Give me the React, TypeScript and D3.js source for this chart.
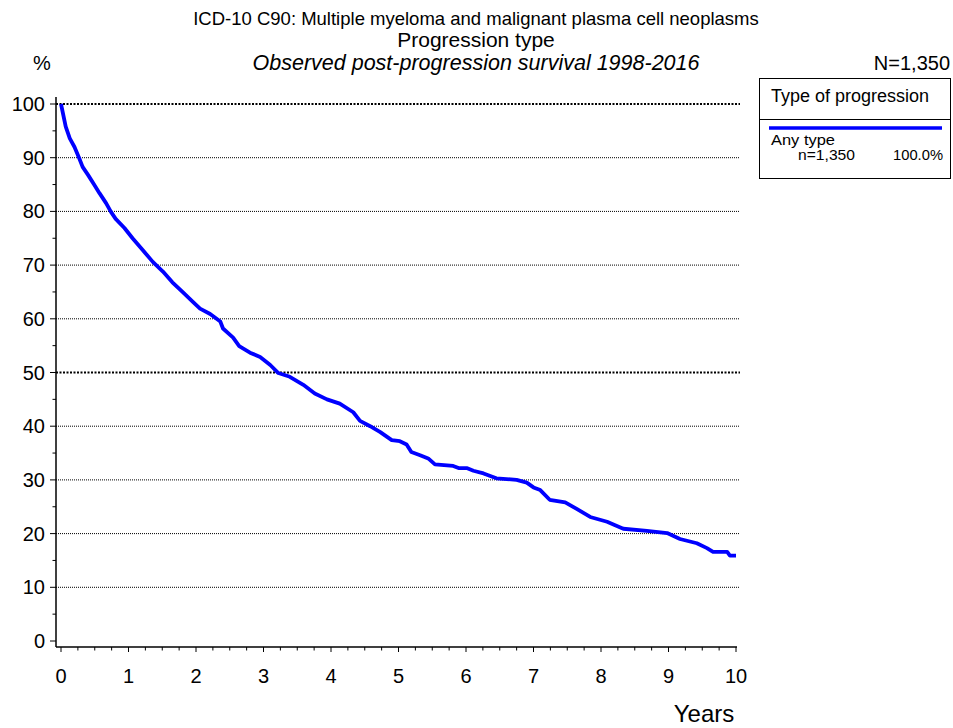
import { line, scaleLinear, range, curveLinear } from "d3";

const years = [
  0, 0.07, 0.13, 0.2, 0.27, 0.32, 0.4, 0.49, 0.57, 0.67, 0.74, 0.81, 0.94, 1.06,
  1.21, 1.36, 1.51, 1.65, 1.8, 1.95, 2.06, 2.21, 2.36, 2.4, 2.55, 2.64, 2.8,
  2.95, 3.1, 3.22, 3.39, 3.59, 3.76, 3.94, 4.13, 4.33, 4.43, 4.58, 4.73, 4.9,
  5.02, 5.12, 5.19, 5.32, 5.44, 5.54, 5.81, 5.89, 6.01, 6.11, 6.26, 6.45, 6.75,
  6.9, 7.0, 7.1, 7.24, 7.47, 7.64, 7.84, 8.09, 8.33, 8.68, 8.98, 9.17, 9.42,
  9.57, 9.66, 9.87, 9.91, 10.0,
];
const survival = [
  100, 95.8, 93.6, 92.0, 89.9, 88.3, 86.8, 85.0, 83.4, 81.5, 79.9, 78.6, 76.9,
  75.0, 72.8, 70.6, 68.8, 66.8, 65.0, 63.2, 61.9, 60.9, 59.5, 58.2, 56.5, 54.9,
  53.7, 52.9, 51.4, 49.9, 49.2, 47.7, 46.1, 45.0, 44.2, 42.6, 41.0, 40.0, 38.9,
  37.4, 37.2, 36.6, 35.2, 34.6, 34.0, 32.9, 32.6, 32.2, 32.2, 31.7, 31.2, 30.3,
  30.0, 29.5, 28.6, 28.1, 26.3, 25.8, 24.6, 23.1, 22.2, 20.9, 20.5, 20.1, 19.0,
  18.2, 17.3, 16.6, 16.6, 15.9, 15.9,
];
const yTicks = [0, 10, 20, 30, 40, 50, 60, 70, 80, 90, 100];
const xTicks = [0, 1, 2, 3, 4, 5, 6, 7, 8, 9, 10];
const boldGrid = [50, 100];

const width = 953;
const height = 728;
const font = "Arial, 'Liberation Sans', sans-serif";

export default function App() {
  const x = scaleLinear().domain([0, 10]).range([61, 736]);
  const y = scaleLinear().domain([0, 100]).range([641, 104]);
  const axisLeft = 56;
  const axisBottom = 647;
  const titleX = 476;

  const pts = years.map((t, i) => [t, survival[i]] as [number, number]);
  const path = line<[number, number]>()
    .x((d) => x(d[0]))
    .y((d) => y(d[1]))
    .curve(curveLinear)(pts);

  return (
    <svg
      width={width}
      height={height}
      style={{ position: "absolute", left: 0, top: 0, background: "white" }}
      fontFamily={font}
    >
      <rect width={width} height={height} fill="white" />
      {/* titles */}
      <text x={titleX} y={25} fontSize={18.5} textAnchor="middle">
        ICD-10 C90: Multiple myeloma and malignant plasma cell neoplasms
      </text>
      <text x={titleX} y={47} fontSize={21} textAnchor="middle">
        Progression type
      </text>
      <text x={titleX} y={70} fontSize={21.5} textAnchor="middle" fontStyle="italic">
        Observed post-progression survival 1998-2016
      </text>
      <text x={33} y={70} fontSize={20}>
        %
      </text>
      <text x={950} y={70} fontSize={20} textAnchor="end">
        N=1,350
      </text>

      {/* gridlines */}
      {yTicks
        .filter((v) => v > 0)
        .map((v) => {
          const bold = boldGrid.includes(v);
          return (
            <line
              key={v}
              x1={axisLeft}
              x2={740}
              y1={y(v)}
              y2={y(v)}
              stroke="#000"
              strokeWidth={bold ? 2 : 1}
              strokeDasharray={bold ? "2,1.5" : "1,1"}
            />
          );
        })}

      {/* axes */}
      <line x1={axisLeft} x2={axisLeft} y1={97} y2={axisBottom} stroke="#000" strokeWidth={1.5} />
      <line x1={axisLeft} x2={737} y1={axisBottom} y2={axisBottom} stroke="#000" strokeWidth={1.5} />
      {range(0, 101, 5).map((v) => (
        <line
          key={"yt" + v}
          x1={v % 10 === 0 ? axisLeft - 6 : axisLeft - 3.5}
          x2={axisLeft}
          y1={y(v)}
          y2={y(v)}
          stroke="#000"
          strokeWidth={1}
        />
      ))}
      {yTicks.map((v) => (
        <text key={"yl" + v} x={45} y={y(v) + 7} fontSize={20} textAnchor="end">
          {v}
        </text>
      ))}
      {range(0, 40.5, 1).map((q) => (
        <line
          key={"xt" + q}
          x1={x(q / 4)}
          x2={x(q / 4)}
          y1={axisBottom}
          y2={axisBottom + (q % 4 === 0 ? 5 : 3.5)}
          stroke="#000"
          strokeWidth={1}
        />
      ))}
      {xTicks.map((v) => (
        <text key={"xl" + v} x={x(v)} y={683} fontSize={20} textAnchor="middle">
          {v}
        </text>
      ))}
      <text x={704} y={722} fontSize={24} textAnchor="middle">
        Years
      </text>

      {/* survival curve */}
      {path && (
        <path d={path} fill="none" stroke="#0000ff" strokeWidth={3.8} strokeLinejoin="round" />
      )}

      {/* legend */}
      <rect x={759.5} y={78.5} width={191} height={100} fill="none" stroke="#000" strokeWidth={1} />
      <line x1={759.5} x2={950.5} y1={119.5} y2={119.5} stroke="#000" strokeWidth={1} />
      <text x={771} y={102} fontSize={18}>
        Type of progression
      </text>
      <line x1={769} x2={942} y1={128} y2={128} stroke="#0000ff" strokeWidth={3.5} />
      <text x={771} y={145} fontSize={14} textLength={64} lengthAdjust="spacingAndGlyphs">
        Any type
      </text>
      <text x={798} y={160} fontSize={14} textLength={57} lengthAdjust="spacingAndGlyphs">
        n=1,350
      </text>
      <text x={893} y={160} fontSize={14} textLength={50} lengthAdjust="spacingAndGlyphs">
        100.0%
      </text>
    </svg>
  );
}
